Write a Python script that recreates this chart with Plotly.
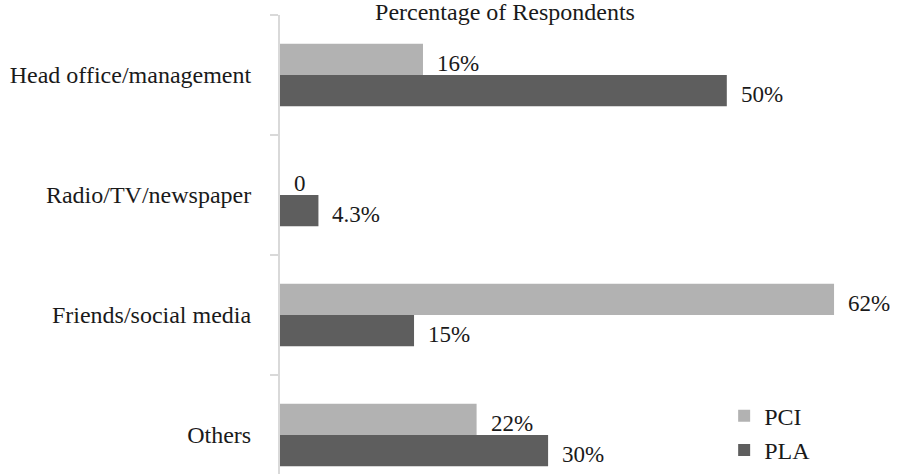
import plotly.graph_objects as go

categories = ["Head office/management", "Radio/TV/newspaper", "Friends/social media", "Others"]
pci_values = [16, 0, 62, 22]
pla_values = [50, 4.3, 15, 30]
pci_labels = ["16%", "0", "62%", "22%"]
pla_labels = ["50%", "4.3%", "15%", "30%"]

FONT = "'Liberation Serif', 'Times New Roman', Times, serif"
PCI_COLOR = "#B2B2B2"
PLA_COLOR = "#5E5E5E"
TEXT_COLOR = "#1a1a1a"

fig = go.Figure()
fig.add_trace(go.Bar(y=categories, x=pci_values, orientation="h", name="PCI",
                     marker=dict(color=PCI_COLOR, line=dict(width=0)), legendgroup="a"))
fig.add_trace(go.Bar(y=categories, x=pla_values, orientation="h", name="PLA",
                     marker=dict(color=PLA_COLOR, line=dict(width=0)), legendgroup="b"))

annotations = []
for c, v, t in zip(categories, pci_values, pci_labels):
    annotations.append(dict(x=v, y=c, xref="x", yref="y", text=t, showarrow=False,
                            xanchor="left", yanchor="middle", xshift=12, yshift=12,
                            font=dict(family=FONT, size=23, color=TEXT_COLOR)))
for c, v, t in zip(categories, pla_values, pla_labels):
    annotations.append(dict(x=v, y=c, xref="x", yref="y", text=t, showarrow=False,
                            xanchor="left", yanchor="middle", xshift=12, yshift=-19,
                            font=dict(family=FONT, size=23, color=TEXT_COLOR)))

fig.update_layout(
    width=910, height=474,
    margin=dict(l=280, r=0, t=15, b=0),
    paper_bgcolor="white", plot_bgcolor="white",
    barmode="group", bargap=0.48, bargroupgap=0,
    font=dict(family=FONT, size=23, color=TEXT_COLOR),
    title=dict(text="Percentage of Respondents", x=505/910, xanchor="center",
               y=1 - 12/474, yanchor="middle", yref="container",
               font=dict(family=FONT, size=24, color=TEXT_COLOR)),
    showlegend=True,
    legend=dict(x=0.705, y=0.175, xanchor="left", yanchor="top",
                traceorder="grouped", tracegroupgap=0, itemwidth=30,
                font=dict(family=FONT, size=24, color=TEXT_COLOR),
                bgcolor="rgba(0,0,0,0)"),
    xaxis=dict(range=[0, 70.5], showgrid=False, zeroline=False, showline=False,
               showticklabels=False, ticks=""),
    yaxis=dict(type="category", categoryorder="array", categoryarray=categories,
               range=[3.325, -0.5], showgrid=False, zeroline=False,
               showline=True, linecolor="#D9D9D9", linewidth=2,
               ticks="outside", tickson="boundaries", ticklen=8, tickcolor="#D9D9D9",
               tickwidth=2, ticklabelstandoff=22,
               tickfont=dict(family=FONT, size=24, color=TEXT_COLOR)),
    annotations=annotations,
)

fig.write_html("out.html")
